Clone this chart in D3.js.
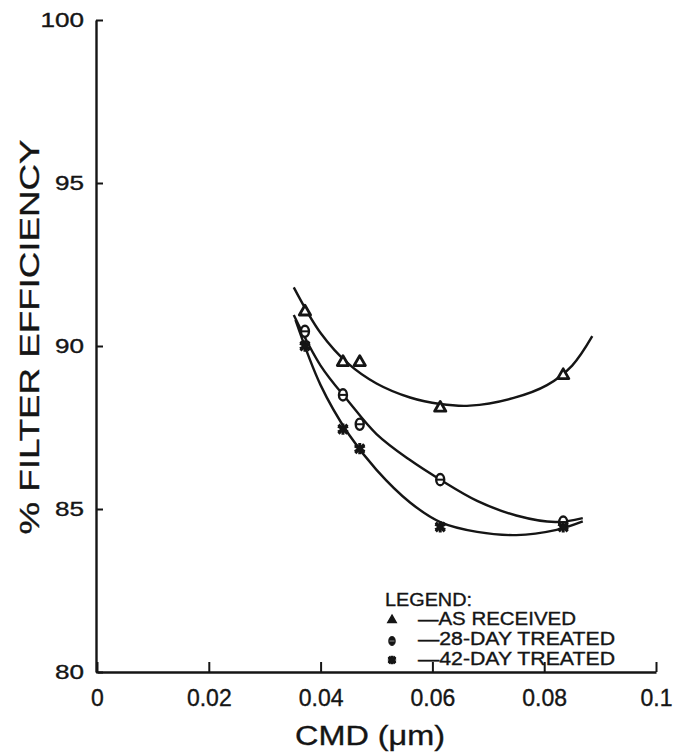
<!DOCTYPE html>
<html>
<head>
<meta charset="utf-8">
<script src="https://cdn.jsdelivr.net/npm/d3@7/dist/d3.min.js"></script>
<style>
  html, body { margin: 0; padding: 0; background: #ffffff; }
  svg { display: block; }
  text { font-family: "Liberation Sans", Arial, Helvetica, sans-serif; fill: #151515; stroke: #151515; stroke-width: 0.35px; }
</style>
</head>
<body>
<svg id="chart" width="675" height="753"></svg>
<script>
// ---- data ----
const xTicks = [0, 0.02, 0.04, 0.06, 0.08, 0.1];
const xTickLabels = ["0", "0.02", "0.04", "0.06", "0.08", "0.1"];
const yTicks = [80, 85, 90, 95, 100];
const yTickLabels = ["80", "85", "90", "95", "100"];

const seriesNames = ["AS RECEIVED", "28-DAY TREATED", "42-DAY TREATED"];
const cmd = [0.0372, 0.044, 0.047, 0.0614, 0.0834];
const asReceived = [91.05, 89.5, 89.5, 88.1, 89.1];
const treated28 = [90.45, 88.5, 87.6, 85.9, 84.6];
const treated42 = [90.0, 87.45, 86.85, 84.45, 84.45];

// fitted curves as drawn in the reference: [CMD, efficiency]
const curveAsReceived = [[0.0352,91.8],[0.040,90.4],[0.045,89.45],[0.050,88.85],[0.056,88.42],[0.0614,88.22],[0.0667,88.17],[0.0744,88.4],[0.0805,88.8],[0.085,89.4],[0.0886,90.3]];
const curve28 = [[0.0352,90.95],[0.040,89.4],[0.045,88.3],[0.050,87.3],[0.056,86.5],[0.0614,85.9],[0.068,85.25],[0.075,84.8],[0.082,84.6],[0.0869,84.72]];
const curve42 = [[0.0355,90.8],[0.040,88.8],[0.045,87.3],[0.050,86.2],[0.056,85.2],[0.0614,84.6],[0.068,84.3],[0.075,84.2],[0.082,84.35],[0.0869,84.62]];

// ---- drawing ----
const ink = "#151515";
const svg = d3.select("#chart");
const x = d3.scaleLinear().domain([0, 0.1]).range([97, 656]);
const y = d3.scaleLinear().domain([80, 100]).range([672, 20]);

// axes
const xAxis = d3.axisBottom(x).tickValues(xTicks)
  .tickFormat((d, i) => xTickLabels[i]).tickSizeInner(-10).tickSizeOuter(0).tickPadding(18);
const gx = svg.append("g").attr("transform", `translate(0,${y(80)})`).call(xAxis);
gx.select(".domain").attr("stroke", ink).attr("stroke-width", 2.4);
gx.selectAll(".tick line").attr("stroke", ink).attr("stroke-width", 2);
gx.selectAll(".tick text").attr("font-size", 23).attr("fill", ink)
  .attr("font-family", "Liberation Sans, Arial, sans-serif");

const yAxis = d3.axisLeft(y).tickValues(yTicks)
  .tickFormat((d, i) => yTickLabels[i]).tickSizeInner(-7).tickSizeOuter(0).tickPadding(12);
const gy = svg.append("g").attr("transform", `translate(${x(0) - 1},0)`).call(yAxis);
gy.select(".domain").attr("stroke", ink).attr("stroke-width", 2.4);
gy.selectAll(".tick line").attr("stroke", ink).attr("stroke-width", 2);
gy.selectAll(".tick text").attr("font-size", 20).attr("fill", ink)
  .attr("font-family", "Liberation Sans, Arial, sans-serif")
  .each(function(d, i) {
    const s = yTickLabels[i];
    d3.select(this).attr("textLength", s.length * 14.5).attr("lengthAdjust", "spacingAndGlyphs");
  });

// axis titles
svg.append("text")
  .attr("transform", `translate(39,${337}) rotate(-90)`)
  .attr("text-anchor", "middle")
  .attr("font-size", 28)
  .attr("textLength", 395).attr("lengthAdjust", "spacingAndGlyphs")
  .text("% FILTER EFFICIENCY");

svg.append("text")
  .attr("x", 370).attr("y", 745)
  .attr("text-anchor", "middle")
  .attr("font-size", 27)
  .attr("textLength", 150).attr("lengthAdjust", "spacingAndGlyphs")
  .text("CMD (\u03BCm)");

// curves
const line = d3.line().x(d => x(d[0])).y(d => y(d[1])).curve(d3.curveCatmullRom.alpha(0.5));
[curveAsReceived, curve28, curve42].forEach(c => {
  svg.append("path").datum(c).attr("d", line)
    .attr("fill", "none").attr("stroke", ink).attr("stroke-width", 2.4);
});

// markers
function drawTriangle(g, cx, cy, s) {
  g.append("path")
    .attr("d", d3.symbol(d3.symbolTriangle, s)())
    .attr("transform", `translate(${cx},${cy})`)
    .attr("fill", "#fff").attr("stroke", ink).attr("stroke-width", 2.8)
    .attr("stroke-linejoin", "round");
}
function drawTheta(g, cx, cy, rx, ry) {
  g.append("ellipse").attr("cx", cx).attr("cy", cy).attr("rx", rx).attr("ry", ry)
    .attr("fill", "#fff").attr("stroke", ink).attr("stroke-width", 2.4);
  g.append("line").attr("x1", cx - rx).attr("x2", cx + rx).attr("y1", cy).attr("y2", cy)
    .attr("stroke", ink).attr("stroke-width", 2);
}
function drawStar(g, cx, cy, s) {
  g.append("path").attr("d", d3.symbol(d3.symbolAsterisk, s)())
    .attr("transform", `translate(${cx},${cy})`)
    .attr("fill", "none").attr("stroke", ink).attr("stroke-width", 3);
  g.append("path").attr("d", d3.symbol(d3.symbolX, s * 0.6)())
    .attr("transform", `translate(${cx},${cy})`)
    .attr("fill", "none").attr("stroke", ink).attr("stroke-width", 3);
  g.append("circle").attr("cx", cx).attr("cy", cy).attr("r", 2.5).attr("fill", ink);
}

const gm = svg.append("g");
cmd.forEach((c, i) => drawTriangle(gm, x(c), y(asReceived[i]), 55));
cmd.forEach((c, i) => drawTheta(gm, x(c), y(treated28[i]), 4, 5.6));
cmd.forEach((c, i) => drawStar(gm, x(c), y(treated42[i]), 90));

// legend
const lg = svg.append("g");
lg.append("text").attr("x", 385).attr("y", 606).attr("font-size", 18)
  .attr("textLength", 87).attr("lengthAdjust", "spacingAndGlyphs").text("LEGEND:");
const rowY = [625, 645, 665];
const rowLen = [158, 197, 197];
seriesNames.forEach((n, i) => {
  lg.append("text").attr("x", 418).attr("y", rowY[i]).attr("font-size", 18)
    .attr("textLength", rowLen[i]).attr("lengthAdjust", "spacingAndGlyphs")
    .text("\u2014" + n);
});
lg.append("path").attr("d", d3.symbol(d3.symbolTriangle, 30)())
  .attr("transform", `translate(392,620)`).attr("fill", ink).attr("stroke", ink).attr("stroke-width", 1.5);
lg.append("ellipse").attr("cx", 392).attr("cy", 641).attr("rx", 3.2).attr("ry", 4.4)
  .attr("fill", ink).attr("stroke", ink).attr("stroke-width", 1);
lg.append("line").attr("x1", 389.5).attr("x2", 394.5).attr("y1", 641).attr("y2", 641)
  .attr("stroke", "#888").attr("stroke-width", 1);
drawStar(lg, 392, 660, 50);
</script>
</body>
</html>
